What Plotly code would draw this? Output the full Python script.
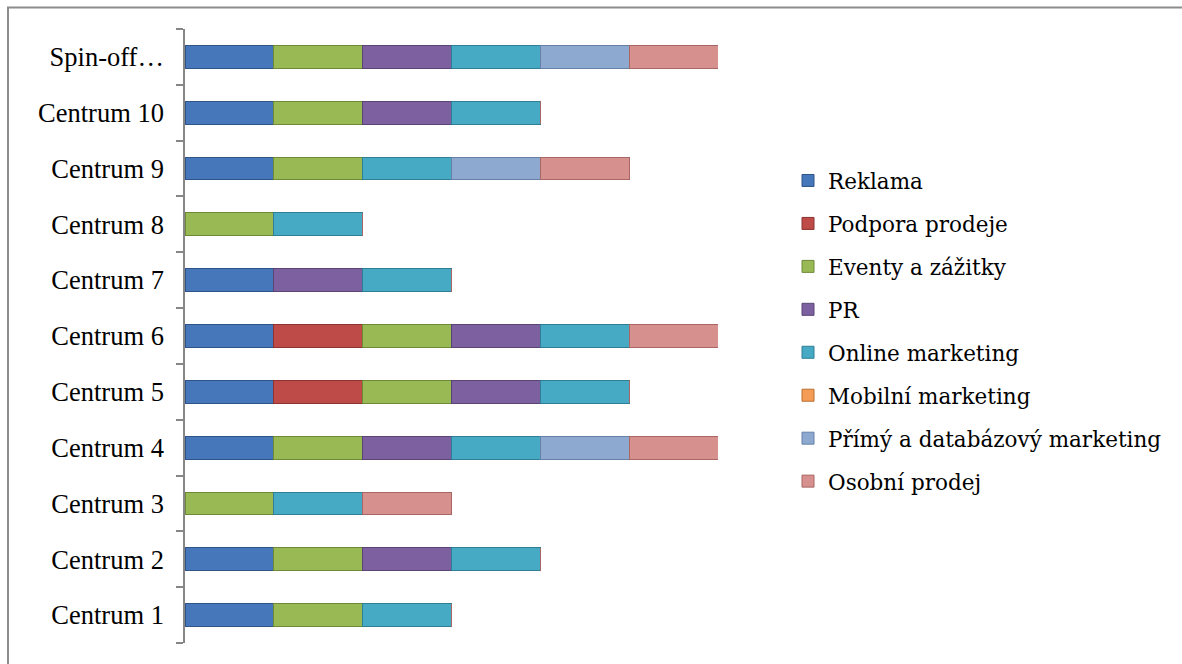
import plotly.graph_objects as go

categories = ["Centrum 1", "Centrum 2", "Centrum 3", "Centrum 4", "Centrum 5",
              "Centrum 6", "Centrum 7", "Centrum 8", "Centrum 9", "Centrum 10",
              "Spin-off…"]

reklama =        [1, 1, 0, 1, 1, 1, 1, 0, 1, 1, 1]
podpora =        [0, 0, 0, 0, 1, 1, 0, 0, 0, 0, 0]
eventy =         [1, 1, 1, 1, 1, 1, 0, 1, 1, 1, 1]
pr =             [0, 1, 0, 1, 1, 1, 1, 0, 0, 1, 1]
online =         [1, 1, 1, 1, 1, 1, 1, 1, 1, 1, 1]
mobilni =        [0, 0, 0, 0, 0, 0, 0, 0, 0, 0, 0]
primy =          [0, 0, 0, 1, 0, 0, 0, 0, 1, 0, 1]
osobni =         [0, 0, 1, 1, 0, 1, 0, 0, 1, 0, 1]

series = [
    ("Reklama", reklama, "#4677BA", "#2F5588"),
    ("Podpora prodeje", podpora, "#BE4B48", "#8C3331"),
    ("Eventy a zážitky", eventy, "#98B954", "#6E8A38"),
    ("PR", pr, "#7D60A0", "#5A4476"),
    ("Online marketing", online, "#46AAC5", "#2E7F95"),
    ("Mobilní marketing", mobilni, "#F59D56", "#B86E30"),
    ("Přímý a databázový marketing", primy, "#8EA9D0", "#6680A8"),
    ("Osobní prodej", osobni, "#D6908E", "#A86664"),
]

FONT = "Times New Roman"
LEG_FONT = "DejaVu Serif"

fig = go.Figure()
for name, vals, col, edge in series:
    fig.add_trace(go.Bar(
        y=categories, x=vals, name=name, orientation="h",
        marker=dict(color=col, line=dict(color=edge, width=1)),
        width=0.41, legendgroup=name,
    ))

W, H = 1182, 664
L, R, T, B = 185, 718, 29, 643

fig.update_layout(
    width=W, height=H,
    barmode="stack",
    plot_bgcolor="white", paper_bgcolor="white",
    margin=dict(l=L, r=W - R, t=T, b=H - B, autoexpand=False),
    font=dict(family=FONT, size=26.5, color="black"),
    showlegend=True,
    legend=dict(
        x=(788 - L) / (R - L), xanchor="left",
        y=(B - 160) / (B - T), yanchor="top",
        traceorder="grouped", tracegroupgap=12,
        font=dict(family=LEG_FONT, size=21.5, color="black"),
        bgcolor="rgba(0,0,0,0)",
    ),
    xaxis=dict(range=[0, 6], visible=False, fixedrange=True),
    yaxis=dict(
        type="category", range=[-0.5, 10.5],
        showline=True, linecolor="#868686", linewidth=1.5,
        ticks="outside", tickson="boundaries", ticklen=7,
        tickcolor="#868686", tickwidth=1.5,
        ticklabelstandoff=14,
        showgrid=False, zeroline=False,
        tickfont=dict(family=FONT, size=26.5, color="black"),
    ),
    shapes=[dict(
        type="rect", xref="paper", yref="paper",
        x0=(8 - L) / (R - L), x1=(1300 - L) / (R - L),
        y0=(B - 800) / (B - T), y1=(B - 7.5) / (B - T),
        line=dict(color="#8C8C8C", width=2), fillcolor="rgba(0,0,0,0)",
        layer="below",
    )],
)

fig.write_html("out.html")
